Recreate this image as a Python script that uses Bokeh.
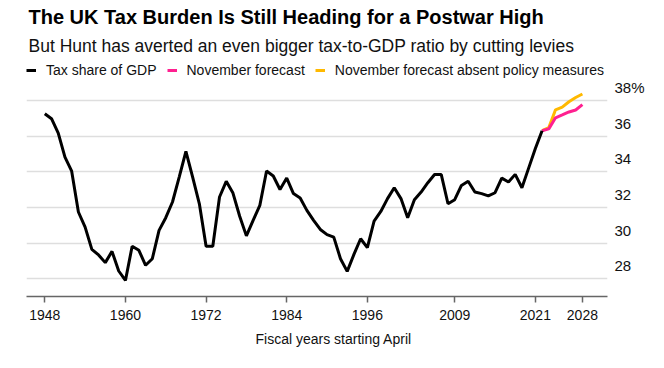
from bokeh.plotting import figure
from bokeh.models import Range1d, LinearAxis, FixedTicker, Title, Legend, LegendItem
from bokeh.embed import file_html
from bokeh.resources import INLINE

# ---------------- data ----------------
TITLE = "The UK Tax Burden Is Still Heading for a Postwar High"
SUBTITLE = "But Hunt has averted an even bigger tax-to-GDP ratio by cutting levies"
X_LABEL = "Fiscal years starting April"

legend_labels = ["Tax share of GDP", "November forecast",
                 "November forecast absent policy measures"]

hist_years = list(range(1948, 2023))
hist_share = [37.25, 36.97, 36.16, 34.82, 34.03, 31.74, 30.89, 29.64, 29.33, 28.90,
              29.53, 28.43, 27.90, 29.82, 29.59, 28.75, 29.12, 30.71, 31.42, 32.30,
              33.70, 35.14, 33.70, 32.20, 29.82, 29.82, 32.58, 33.46, 32.80, 31.50,
              30.40, 31.27, 32.11, 34.04, 33.76, 33.00, 33.64, 32.77, 32.52, 31.83,
              31.27, 30.76, 30.47, 30.33, 29.12, 28.41, 29.36, 30.24, 29.74, 31.23,
              31.77, 32.49, 33.10, 32.49, 31.42, 32.43, 32.86, 33.38, 33.84, 33.84,
              32.20, 32.43, 33.23, 33.46, 32.86, 32.77, 32.64, 32.82, 33.64, 33.42,
              33.85, 33.10, 34.20, 35.30, 36.30]

fc_years = list(range(2022, 2029))
nov_forecast = [36.30, 36.40, 37.02, 37.18, 37.35, 37.46, 37.76]
nov_absent = [36.30, 36.47, 37.47, 37.62, 37.92, 38.16, 38.36]

x_ticks = [1948, 1960, 1972, 1984, 1996, 2009, 2021, 2028]
y_ticks = [28, 30, 32, 34, 36, 38]

# ---------------- style ----------------
FONT = "Liberation Sans"
BLACK = "#000000"
PINK = "#ff2090"
YELLOW = "#ffb900"

W, H = 664, 368
frame_left, frame_right = 26, 607
frame_top, frame_bottom = 60, 296
px_per_unit = 17.83
y_lo = 27.0
y_hi = y_lo + (frame_bottom - frame_top) / px_per_unit
px_per_year = 6.72
x_lo = 1948 - (44.3 - frame_left) / px_per_year
x_hi = 1948 + (frame_right - 44.3) / px_per_year

p = figure(width=W, height=H, x_range=Range1d(x_lo, x_hi), y_range=Range1d(y_lo, y_hi),
           output_backend="svg", toolbar_location=None, y_axis_location=None,
           min_border_left=frame_left, min_border_right=W - frame_right,
           min_border_top=frame_top, min_border_bottom=H - frame_bottom,
           outline_line_color=None, background_fill_color="white",
           border_fill_color="white")

p.xgrid.visible = False
p.ygrid.ticker = FixedTicker(ticks=y_ticks)
p.ygrid.grid_line_color = "#dedede"
p.ygrid.grid_line_width = 1.5

# right-side labels sit just above their gridlines
shift = 13 / px_per_unit
p.extra_y_ranges = {"lab": Range1d(y_lo - shift, y_hi - shift)}
ya = LinearAxis(y_range_name="lab", ticker=FixedTicker(ticks=y_ticks),
                major_label_overrides={38: "38%"})
ya.axis_line_color = None
ya.major_tick_line_color = None
ya.minor_tick_line_color = None
ya.major_tick_out = 0
ya.major_tick_in = 0
ya.major_label_standoff = 7
ya.major_label_text_font = FONT
ya.major_label_text_font_size = "15px"
ya.major_label_text_color = "#111111"
p.add_layout(ya, "right")

xa = p.xaxis[0]
xa.ticker = FixedTicker(ticks=x_ticks)
xa.axis_line_color = "#666666"
xa.axis_line_width = 1.5
xa.major_tick_line_color = "#666666"
xa.major_tick_line_width = 1.5
xa.major_tick_out = 6
xa.major_tick_in = 0
xa.minor_tick_line_color = None
xa.major_label_standoff = 7
xa.major_label_text_font = FONT
xa.major_label_text_font_size = "14px"
xa.major_label_text_color = "#111111"

p.add_layout(Title(text=X_LABEL, align="left", offset=229, text_font=FONT,
                   text_font_size="14px", text_font_style="normal",
                   text_color="#111111", standoff=13), "below")

# data lines
r_abs = p.line(fc_years, nov_absent, line_color=YELLOW, line_width=3)
r_fc = p.line(fc_years, nov_forecast, line_color=PINK, line_width=3)
r_hist = p.line(hist_years, hist_share, line_color=BLACK, line_width=3)

legend = Legend(items=[LegendItem(label=legend_labels[0], renderers=[r_hist]),
                       LegendItem(label=legend_labels[1], renderers=[r_fc]),
                       LegendItem(label=legend_labels[2], renderers=[r_abs])],
                orientation="horizontal", location="top_left",
                glyph_width=10, glyph_height=20, label_standoff=10, spacing=10,
                padding=0, margin=0, border_line_color=None,
                background_fill_alpha=0, label_text_font=FONT,
                label_text_font_size="14px", label_text_color="#111111")
p.add_layout(legend, "center")

p.add_layout(Title(text=SUBTITLE, align="left", offset=2, text_font=FONT,
                   text_font_size="17.5px", text_font_style="normal",
                   text_color="#111111", standoff=9), "above")
p.add_layout(Title(text=TITLE, align="left", offset=2, text_font=FONT,
                   text_font_size="20px", text_font_style="bold",
                   text_color="#000000", standoff=4), "above")

open("out.html", "w").write(file_html(p, INLINE))
